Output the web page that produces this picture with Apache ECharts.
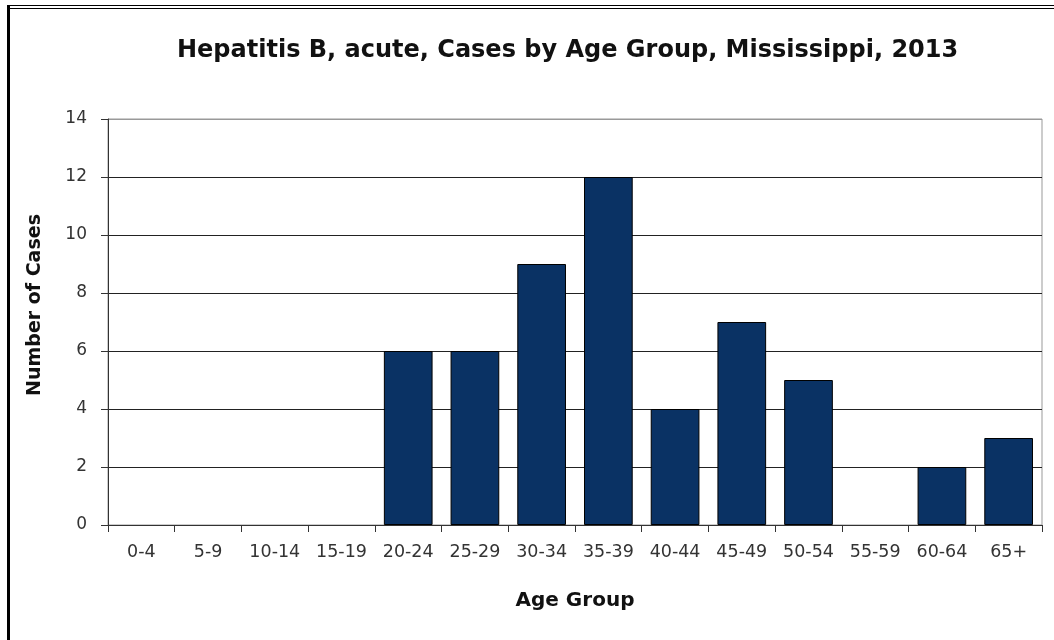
<!DOCTYPE html>
<html><head><meta charset="utf-8">
<script src="https://cdn.jsdelivr.net/npm/echarts@6/dist/echarts.min.js"></script>
<style>html,body{margin:0;padding:0;background:#fff}#c{width:1054px;height:640px}</style>
</head><body><div id="c"></div>
<script>
const categories = ['0-4','5-9','10-14','15-19','20-24','25-29','30-34','35-39','40-44','45-49','50-54','55-59','60-64','65+'];
const cases = [0,0,0,0,6,6,9,12,4,7,5,0,2,3];
const yTicks = {min:0, max:14, interval:2};
const FONT = 'DejaVu Sans';
const chart = echarts.init(document.getElementById('c'), null, {renderer:'canvas'});
chart.setOption({
  animation:false,
  backgroundColor:'#fff',
  title:{text:'Hepatitis B, acute, Cases by Age Group, Mississippi, 2013', left:172, top:34,
    textStyle:{fontFamily:FONT, fontWeight:'bold', fontSize:24, color:'#111'}},
  grid:{left:108, right:12, top:119, bottom:115, show:true, borderColor:'#999', borderWidth:1},
  xAxis:{type:'category', data:categories, name:'Age Group', nameLocation:'middle', nameGap:66,
    nameTextStyle:{fontFamily:FONT, fontWeight:'bold', fontSize:20, color:'#111'},
    axisLine:{lineStyle:{color:'#333', width:1}},
    axisTick:{show:true, alignWithLabel:false, length:7, lineStyle:{color:'#333'}},
    axisLabel:{fontFamily:FONT, fontSize:17.5, color:'#333', margin:18}},
  yAxis:{type:'value', min:yTicks.min, max:yTicks.max, interval:yTicks.interval,
    axisLine:{show:true, lineStyle:{color:'#333'}},
    axisTick:{show:true, length:7, lineStyle:{color:'#333'}},
    axisLabel:{fontFamily:FONT, fontSize:17, color:'#333', margin:21},
    splitLine:{show:true, lineStyle:{color:['#222','#222','#222','#222','#222','#222','#222','#999'], width:1}}},
  series:[{type:'bar', barCategoryGap:'27%',
    data:cases.map(v => ({value:v, itemStyle: v === 0 ? {borderWidth:0, color:'transparent'} : {}})),
    itemStyle:{color:'#0a3264', borderColor:'#000', borderWidth:1}}],
  graphic:[
    {type:'rect', shape:{x:8, y:5, width:1046, height:1}, style:{fill:'#000'}},
    {type:'rect', shape:{x:8, y:8, width:1046, height:1}, style:{fill:'#000'}},
    {type:'rect', shape:{x:7, y:5, width:3, height:635}, style:{fill:'#000'}},
    {type:'text', x:35, y:305, rotation:Math.PI/2,
      style:{text:'Number of Cases', fontFamily:FONT, fontWeight:'bold', fontSize:19, fill:'#111',
        align:'center', verticalAlign:'middle'}}
  ]
});
</script></body></html>
